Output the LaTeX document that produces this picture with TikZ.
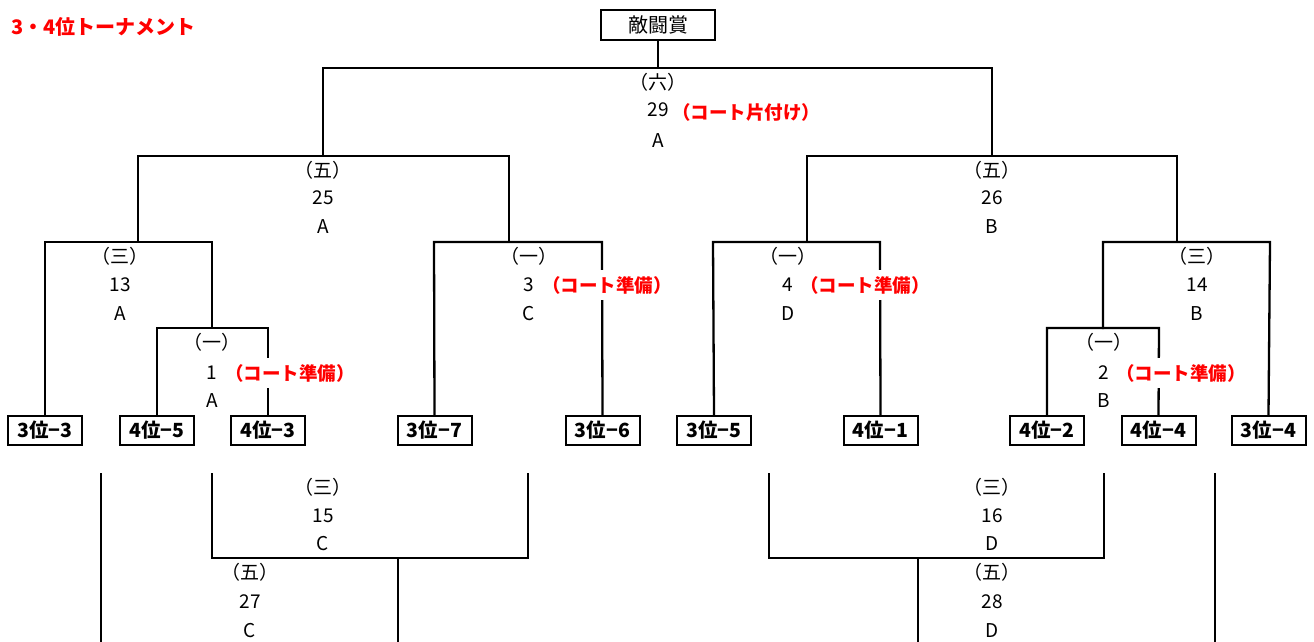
\documentclass[tikz,border=0pt]{standalone}
\usepackage{fontspec}
\setmainfont{Noto Sans CJK JP}
\begin{document}
\begin{tikzpicture}[x=1pt,y=-1pt,
  ln/.style={line width=2.3pt,line cap=rect},
  lbl/.style={font=\fontsize{19}{19}\selectfont,inner sep=0pt,anchor=center},
  note/.style={font=\fontsize{18.5}{18.5}\selectfont\bfseries,text=red,fill=white,inner sep=1pt,anchor=west,minimum height=30pt},
  boxn/.style={draw,line width=2pt,font=\fontsize{19.5}{19.5}\selectfont\bfseries,minimum width=74pt,minimum height=29pt,inner sep=0pt},
  topbox/.style={draw,line width=2pt,font=\fontsize{20}{20}\selectfont,minimum width=114pt,minimum height=30pt,inner sep=0pt}]
\useasboundingbox (0,0) rectangle (1314,641);
\fill[white] (0,0) rectangle (1314,641);

% title
\node[font=\fontsize{20}{20}\selectfont\bfseries,text=red,anchor=west,inner sep=0pt] (title) at (11,27) {3・4位トーナメント};

% boxes
\node[topbox] (top) at (658,25) {敵闘賞};
\node[boxn] (b33) at (45,430) {3位−3};
\node[boxn] (b45) at (157,430) {4位−5};
\node[boxn] (b43) at (268,430) {4位−3};
\node[boxn] (b37) at (434.5,430) {3位−7};
\node[boxn] (b36) at (602.5,430) {3位−6};
\node[boxn] (b35) at (714,430) {3位−5};
\node[boxn] (b41) at (880.5,430) {4位−1};
\node[boxn] (b42) at (1047,430) {4位−2};
\node[boxn] (b44) at (1158.5,430) {4位−4};
\node[boxn] (b34) at (1268.5,430) {3位−4};

% junction coordinates
\coordinate (m6) at (658,68);
\coordinate (m6l) at (323,68);
\coordinate (m6r) at (992,68);
\coordinate (l5) at (323,156);
\coordinate (l5l) at (138,156);
\coordinate (l5r) at (509,156);
\coordinate (r5) at (992,156);
\coordinate (r5l) at (807,156);
\coordinate (r5r) at (1177,156);
\coordinate (l3) at (138,242);
\coordinate (l3l) at (45,242);
\coordinate (l3r) at (212,242);
\coordinate (l1) at (212,328);
\coordinate (l1l) at (157,328);
\coordinate (l1r) at (268,328);
\coordinate (lc) at (509,242);
\coordinate (lcl) at (434,242);
\coordinate (lcr) at (602,242);
\coordinate (rd) at (807,242);
\coordinate (rdl) at (713,242);
\coordinate (rdr) at (880,242);
\coordinate (r3) at (1177,242);
\coordinate (r3l) at (1103,242);
\coordinate (r3r) at (1270,242);
\coordinate (r1) at (1103,328);
\coordinate (r1l) at (1047,328);
\coordinate (r1r) at (1159,328);

% bottom section coordinates
\coordinate (bA) at (101,474);
\coordinate (bAe) at (101,641);
\coordinate (b15l) at (212,474);
\coordinate (b15r) at (528,474);
\coordinate (b15bl) at (212,558);
\coordinate (b15br) at (528,558);
\coordinate (b27) at (398,558);
\coordinate (b27e) at (398,641);
\coordinate (b16l) at (769,474);
\coordinate (b16r) at (1104,474);
\coordinate (b16bl) at (769,558);
\coordinate (b16br) at (1104,558);
\coordinate (b28) at (918,558);
\coordinate (b28e) at (918,641);
\coordinate (bB) at (1215,474);
\coordinate (bBe) at (1215,641);

% lines
\draw[ln] (top.south) -- (m6);
\draw[ln] (l5) -- (m6l) -- (m6r) -- (r5);
\draw[ln] (l3) -- (l5l) -- (l5r) -- (lc);
\draw[ln] (rd) -- (r5l) -- (r5r) -- (r3);
\draw[ln] (b33.north) -- (l3l) -- (l3r) -- (l1);
\draw[ln] (b45.north) -- (l1l) -- (l1r) -- (b43.north);
\draw[ln] (b37.north) -- (lcl) -- (lcr) -- (b36.north);
\draw[ln] (b35.north) -- (rdl) -- (rdr) -- (b41.north);
\draw[ln] (r1) -- (r3l) -- (r3r) -- (b34.north);
\draw[ln] (b42.north) -- (r1l) -- (r1r) -- (b44.north);
\draw[ln] (bA) -- (bAe);
\draw[ln] (b15l) -- (b15bl) -- (b15br) -- (b15r);
\draw[ln] (b27) -- (b27e);
\draw[ln] (b16l) -- (b16bl) -- (b16br) -- (b16r);
\draw[ln] (b28) -- (b28e);
\draw[ln] (bB) -- (bBe);

% labels
\node[lbl] (t6a) at (658,82) {（六）};
\node[lbl] (t6b) at (658,110) {29};
\node[lbl] (t6c) at (658,141) {A};
\node[note] (n6) at (671,112) {（コート片付け）};

\node[lbl] (t25a) at (323,170) {（五）};
\node[lbl] (t25b) at (323,198) {25};
\node[lbl] (t25c) at (323,227) {A};

\node[lbl] (t26a) at (992,170) {（五）};
\node[lbl] (t26b) at (992,198) {26};
\node[lbl] (t26c) at (992,227) {B};

\node[lbl] (t13a) at (120,256) {（三）};
\node[lbl] (t13b) at (120,285) {13};
\node[lbl] (t13c) at (120,314) {A};

\node[lbl] (t1a) at (212,342) {（一）};
\node[lbl] (t1b) at (212,373) {1};
\node[lbl] (t1c) at (212,401) {A};
\node[note] (n1) at (224,373) {（コート準備）};

\node[lbl] (t3a) at (529,256) {（一）};
\node[lbl] (t3b) at (529,285) {3};
\node[lbl] (t3c) at (529,314) {C};
\node[note] (n3) at (541,285) {（コート準備）};

\node[lbl] (t4a) at (788,256) {（一）};
\node[lbl] (t4b) at (788,285) {4};
\node[lbl] (t4c) at (788,314) {D};
\node[note] (n4) at (799,285) {（コート準備）};

\node[lbl] (t14a) at (1197,256) {（三）};
\node[lbl] (t14b) at (1197,285) {14};
\node[lbl] (t14c) at (1197,314) {B};

\node[lbl] (t2a) at (1104,342) {（一）};
\node[lbl] (t2b) at (1104,373) {2};
\node[lbl] (t2c) at (1104,401) {B};
\node[note] (n2) at (1115,373) {（コート準備）};

\node[lbl] (t15a) at (323,487) {（三）};
\node[lbl] (t15b) at (323,516) {15};
\node[lbl] (t15c) at (323,544) {C};

\node[lbl] (t27a) at (250,572) {（五）};
\node[lbl] (t27b) at (250,602) {27};
\node[lbl] (t27c) at (250,631) {C};

\node[lbl] (t16a) at (992,487) {（三）};
\node[lbl] (t16b) at (992,516) {16};
\node[lbl] (t16c) at (992,544) {D};

\node[lbl] (t28a) at (992,572) {（五）};
\node[lbl] (t28b) at (992,602) {28};
\node[lbl] (t28c) at (992,631) {D};
\end{tikzpicture}
\end{document}
